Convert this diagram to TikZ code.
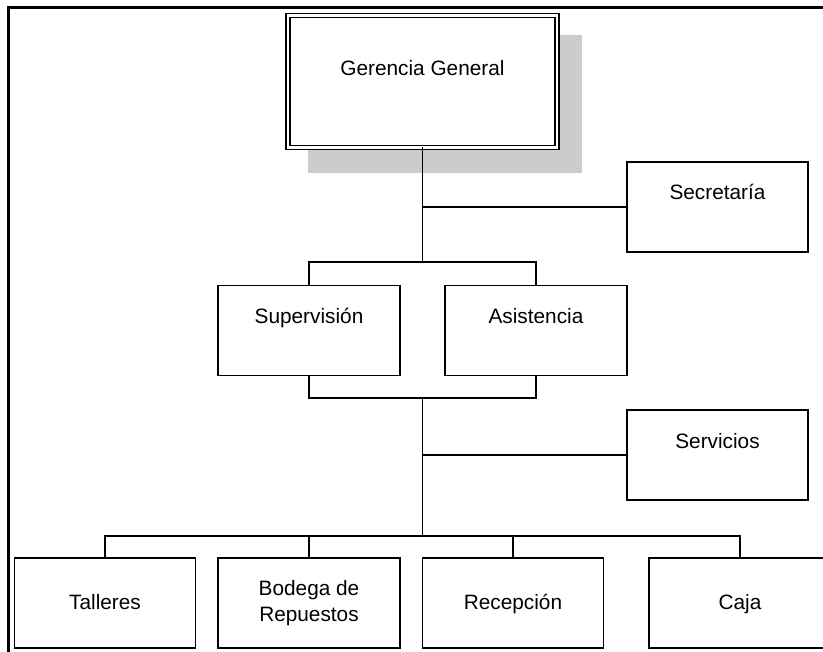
\documentclass[tikz,border=0pt]{standalone}
\usepackage{fontspec}
\setmainfont{Liberation Sans}
\definecolor{shadowgray}{RGB}{204,204,204}
\begin{document}
\begin{tikzpicture}[x=1pt,y=-1pt,
  box/.style={draw, line width=1.9pt, minimum width=182pt, minimum height=90pt,
    inner sep=0pt, outer sep=0pt},
  lbl/.style={font=\fontsize{20.8}{26}\selectfont, anchor=base, inner sep=0pt, align=center},
  link/.style={line width=1.9pt}]
\useasboundingbox (0,0) rectangle (823,652);
\clip (0,0) rectangle (823,652);
\fill[white] (0,0) rectangle (823,652);

% page frame
\draw[line width=2.6pt] (8.5,670) -- (8.5,7.5) -- (840,7.5);

% top box with shadow and double border
\fill[shadowgray] (308,35) rectangle (582,173);
\node[draw, line width=1.6pt, double, double distance=2.4pt, fill=white,
      minimum width=268.5pt, minimum height=132pt, inner sep=0pt, outer sep=0pt]
      (gg) at (422.5,81.5) {};
\node[lbl] (gg-t) at (422.5,76) {Gerencia General};

% boxes
\node[box, minimum width=181pt] (sec) at (717.5,207) {};
\node[box] (sup) at (309,330.5) {};
\node[box] (asi) at (536,330.5) {};
\node[box, minimum width=181pt] (srv) at (717.5,455) {};
\node[box, minimum width=181pt] (tal) at (105,603) {};
\node[box] (bod) at (309,603) {};
\node[box, minimum width=181pt] (rec) at (513,603) {};
\node[box] (caj) at (740,603) {};

% labels
\node[lbl] (sec-t) at (717.5,200) {Secretaría};
\node[lbl] (sup-t) at (309,324) {Supervisión};
\node[lbl] (asi-t) at (536,324) {Asistencia};
\node[lbl] (srv-t) at (717.5,449) {Servicios};
\node[lbl] (tal-t) at (105,609.5) {Talleres};
\node[lbl, anchor=center] (bod-t) at (309,603) {Bodega de\\Repuestos};
\node[lbl] (rec-t) at (513,609.5) {Recepción};
\node[lbl] (caj-t) at (740,609.5) {Caja};

% junction points on the spine
\coordinate (t1) at (422.5,262);
\coordinate (j1) at (422.5,207);
\coordinate (m1) at (422.5,398);
\coordinate (j2) at (422.5,455);
\coordinate (b1) at (422.5,536);

% connectors
\draw[link] (gg.south) -- (t1);
\draw[link] (j1) -- (sec.west);
\draw[link] (sup.north) |- (t1) -| (asi.north);
\draw[link] (sup.south) |- (m1) -| (asi.south);
\draw[link] (m1) -- (b1);
\draw[link] (j2) -- (srv.west);
\draw[link] (tal.north) |- (b1) -| (caj.north);
\draw[link] (bod.north) -- (bod.north |- b1);
\draw[link] (rec.north) -- (rec.north |- b1);
\end{tikzpicture}
\end{document}
